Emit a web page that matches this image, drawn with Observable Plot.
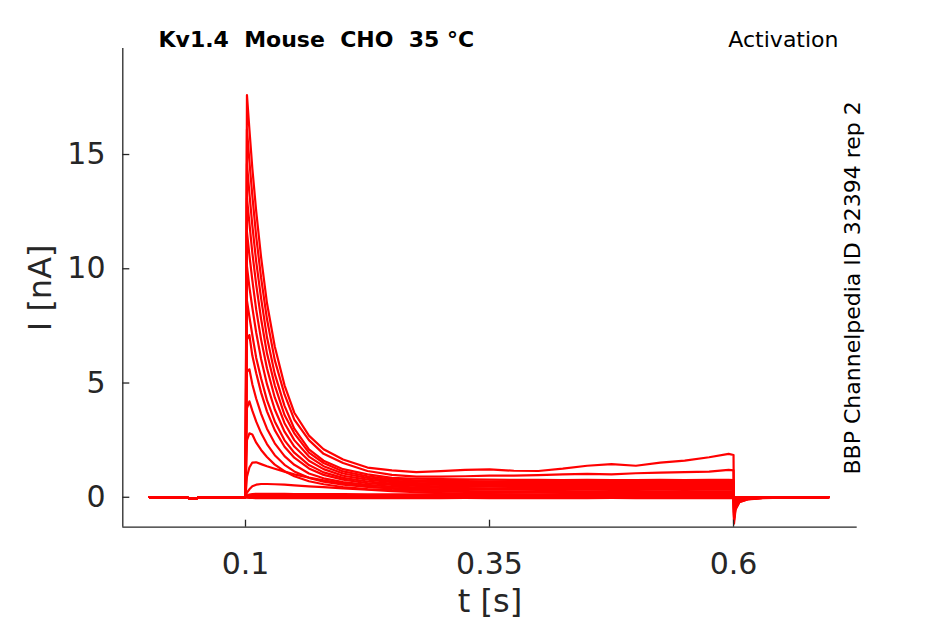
<!DOCTYPE html>
<html>
<head>
<meta charset="utf-8">
<script src="https://cdn.jsdelivr.net/npm/d3@7"></script>
<script src="https://cdn.jsdelivr.net/npm/@observablehq/plot@0.6"></script>
<style>
  html, body { margin: 0; padding: 0; background: #ffffff; }
  svg text { white-space: pre; }
</style>
</head>
<body>
<div id="chart"></div>
<script>
// ---- labels ----
const titleText = "Kv1.4  Mouse  CHO  35 °C";
const protocolText = "Activation";
const sourceText = "BBP Channelpedia ID 32394 rep 2";
const xLabel = "t [s]";
const yLabel = "I [nA]";

// ---- axes ----
const xTicks = [0.1, 0.35, 0.6];
const yTicks = [0, 5, 10, 15];
const xDomain = [-0.0257, 0.7267];
const yDomain = [-1.31, 19.64];

// ---- holding period (shared by every sweep) ----
const tHold = [0.0015, 0.04, 0.042, 0.05, 0.052, 0.0995, 0.1];
const iHold = [0, 0, -0.05, -0.05, 0, 0, 0];

// ---- step + tail sample times ----
const tStep = [0.1015, 0.104, 0.107, 0.111, 0.116, 0.122, 0.13, 0.14, 0.15, 0.165, 0.18,
  0.2, 0.225, 0.25, 0.275, 0.3, 0.325, 0.35, 0.375, 0.4, 0.425, 0.45, 0.475, 0.5, 0.525, 0.55, 0.575, 0.595,
  0.6, 0.6005, 0.602, 0.606, 0.615, 0.63, 0.66, 0.6975];

// ---- current of each sweep at tStep (nA) ----
const sweep1 = [17.6, 16.1, 14.4, 12.5, 10.5, 8.5, 6.6, 4.9, 3.7, 2.7, 2.1, 1.65, 1.3, 1.18, 1.1, 1.14, 1.2, 1.22, 1.16, 1.15, 1.25, 1.38, 1.45, 1.38, 1.52, 1.6, 1.75, 1.9, 1.85, -1.15, -0.55, -0.22, -0.09, -0.04, -0.01, 0];
const sweep2 = [16.1, 14.7, 13.2, 11.4, 9.6, 7.8, 6.0, 4.5, 3.4, 2.5, 1.9, 1.5, 1.15, 0.98, 0.9, 0.9, 0.92, 0.95, 0.95, 0.97, 1.0, 1.02, 1.0, 1.05, 1.08, 1.1, 1.12, 1.2, 1.18, -1.0, -0.5, -0.2, -0.08, -0.03, -0.01, 0];
const sweep3 = [14.6, 13.3, 11.9, 10.3, 8.7, 7.0, 5.4, 4.0, 3.0, 2.1, 1.6, 1.23, 1.0, 0.85, 0.81, 0.79, 0.78, 0.77, 0.76, 0.76, 0.75, 0.76, 0.75, 0.75, 0.76, 0.75, 0.76, 0.76, 0.75, -0.9, -0.45, -0.18, -0.07, -0.03, -0.01, 0];
const sweep4 = [13.1, 12.0, 10.7, 9.3, 7.8, 6.3, 4.9, 3.6, 2.8, 1.95, 1.5, 1.13, 0.92, 0.78, 0.74, 0.72, 0.71, 0.7, 0.69, 0.69, 0.68, 0.69, 0.68, 0.68, 0.69, 0.68, 0.69, 0.69, 0.68, -0.85, -0.42, -0.17, -0.06, -0.03, -0.01, 0];
const sweep5 = [11.6, 10.6, 9.5, 8.2, 6.9, 5.65, 4.37, 3.24, 2.5, 1.78, 1.36, 1.04, 0.85, 0.72, 0.68, 0.66, 0.65, 0.64, 0.63, 0.63, 0.62, 0.63, 0.62, 0.62, 0.63, 0.62, 0.63, 0.63, 0.62, -0.8, -0.4, -0.16, -0.06, -0.02, -0.01, 0];
const sweep6 = [10.1, 9.2, 8.3, 7.2, 6.05, 4.95, 3.84, 2.87, 2.22, 1.6, 1.23, 0.94, 0.77, 0.66, 0.62, 0.6, 0.59, 0.58, 0.57, 0.57, 0.56, 0.57, 0.56, 0.56, 0.57, 0.56, 0.57, 0.57, 0.56, -0.75, -0.37, -0.15, -0.05, -0.02, -0.01, 0];
const sweep7 = [8.6, 7.9, 7.1, 6.1, 5.2, 4.25, 3.32, 2.49, 1.95, 1.41, 1.09, 0.85, 0.69, 0.6, 0.56, 0.54, 0.53, 0.52, 0.51, 0.51, 0.5, 0.51, 0.5, 0.5, 0.51, 0.5, 0.51, 0.51, 0.5, -0.7, -0.35, -0.14, -0.05, -0.02, -0.01, 0];
const sweep8 = [6.9, 7.1, 6.2, 5.43, 4.58, 3.76, 2.94, 2.21, 1.73, 1.26, 0.98, 0.77, 0.62, 0.54, 0.5, 0.48, 0.47, 0.46, 0.45, 0.45, 0.44, 0.45, 0.44, 0.44, 0.45, 0.44, 0.45, 0.45, 0.44, -0.65, -0.32, -0.13, -0.05, -0.02, 0, 0];
const sweep9 = [5.5, 5.6, 4.95, 4.31, 3.65, 3.0, 2.36, 1.8, 1.42, 1.04, 0.83, 0.66, 0.54, 0.47, 0.43, 0.41, 0.4, 0.39, 0.39, 0.38, 0.38, 0.39, 0.38, 0.38, 0.39, 0.38, 0.39, 0.39, 0.38, -0.55, -0.28, -0.11, -0.04, -0.02, 0, 0];
const sweep10 = [3.9, 4.2, 3.79, 3.31, 2.81, 2.33, 1.84, 1.42, 1.13, 0.85, 0.68, 0.55, 0.45, 0.4, 0.37, 0.35, 0.34, 0.33, 0.33, 0.32, 0.32, 0.33, 0.32, 0.32, 0.33, 0.32, 0.33, 0.33, 0.32, -0.45, -0.22, -0.09, -0.03, -0.01, 0, 0];
const sweep11 = [2.5, 2.8, 2.75, 2.39, 2.07, 1.76, 1.43, 1.14, 0.92, 0.7, 0.57, 0.45, 0.36, 0.31, 0.29, 0.27, 0.27, 0.26, 0.26, 0.25, 0.25, 0.26, 0.25, 0.25, 0.26, 0.25, 0.26, 0.26, 0.25, -0.35, -0.17, -0.07, -0.03, -0.01, 0, 0];
const sweep12 = [0.9, 1.3, 1.52, 1.53, 1.45, 1.36, 1.25, 1.12, 1.0, 0.86, 0.74, 0.6, 0.48, 0.38, 0.3, 0.26, 0.23, 0.21, 0.2, 0.2, 0.19, 0.19, 0.18, 0.19, 0.18, 0.18, 0.19, 0.18, 0.18, -0.25, -0.12, -0.05, -0.02, 0, 0, 0];
const sweep13 = [0.2, 0.35, 0.48, 0.55, 0.58, 0.58, 0.57, 0.55, 0.52, 0.48, 0.44, 0.39, 0.33, 0.27, 0.22, 0.18, 0.16, 0.14, 0.13, 0.12, 0.12, 0.11, 0.11, 0.11, 0.1, 0.1, 0.1, 0.1, 0.1, -0.15, -0.07, -0.03, -0.01, 0, 0, 0];
const sweep14 = [0.08, 0.12, 0.14, 0.15, 0.15, 0.15, 0.15, 0.15, 0.14, 0.14, 0.14, 0.14, 0.13, 0.13, 0.13, 0.13, 0.12, 0.13, 0.12, 0.12, 0.12, 0.12, 0.12, 0.12, 0.12, 0.11, 0.12, 0.12, 0.12, -0.1, -0.05, -0.02, -0.01, 0, 0, 0];
const sweep15 = [0.04, 0.06, 0.07, 0.08, 0.08, 0.08, 0.08, 0.08, 0.08, 0.08, 0.07, 0.07, 0.07, 0.07, 0.07, 0.07, 0.07, 0.06, 0.07, 0.07, 0.06, 0.07, 0.07, 0.06, 0.07, 0.07, 0.06, 0.07, 0.07, -0.06, -0.03, -0.01, 0, 0, 0, 0];
const sweep16 = [0.02, 0.03, 0.03, 0.04, 0.04, 0.04, 0.04, 0.04, 0.03, 0.03, 0.03, 0.03, 0.03, 0.03, 0.03, 0.03, 0.03, 0.03, 0.03, 0.03, 0.03, 0.03, 0.03, 0.03, 0.03, 0.03, 0.03, 0.03, 0.03, -0.03, -0.01, 0, 0, 0, 0, 0];
const sweep17 = [0, 0.01, 0.01, 0.01, 0.01, 0, 0, 0.01, 0, 0, 0, 0, 0.01, 0, 0, 0, 0, 0.01, 0, 0, 0, 0, 0, 0.01, 0, 0, 0, 0, 0, -0.01, 0, 0, 0, 0, 0, 0];
const sweep18 = [-0.02, -0.03, -0.03, -0.04, -0.04, -0.04, -0.04, -0.04, -0.04, -0.04, -0.04, -0.04, -0.04, -0.04, -0.04, -0.04, -0.03, -0.04, -0.04, -0.04, -0.04, -0.04, -0.03, -0.04, -0.04, -0.04, -0.04, -0.04, -0.04, 0.02, 0.01, 0, 0, 0, 0, 0];

const sweeps = [sweep1, sweep2, sweep3, sweep4, sweep5, sweep6, sweep7, sweep8, sweep9,
  sweep10, sweep11, sweep12, sweep13, sweep14, sweep15, sweep16, sweep17, sweep18];

// ---- tidy table for Plot ----
const rows = [];
sweeps.forEach((vals, k) => {
  tHold.forEach((t, j) => rows.push({sweep: k, t, i: iHold[j]}));
  tStep.forEach((t, j) => rows.push({sweep: k, t, i: vals[j]}));
});

const ink = "#262626";
const W = 945, H = 624;
const mL = 122.3, mR = 88.3, mT = 48, mB = 97.3;
const frameW = W - mL - mR, frameH = H - mT - mB;
const tickLen = 7;

const chart = Plot.plot({
  width: W,
  height: H,
  marginLeft: mL,
  marginRight: mR,
  marginTop: mT,
  marginBottom: mB,
  style: {fontFamily: "DejaVu Sans", background: "#ffffff", overflow: "visible"},
  x: {domain: xDomain, label: null},
  y: {domain: yDomain, label: null},
  marks: [
    Plot.line(rows, {x: "t", y: "i", z: "sweep", stroke: "#ff0000", strokeWidth: 2.2, strokeLinejoin: "round", curve: "linear"}),
    Plot.ruleY([yDomain[0]], {stroke: ink, strokeWidth: 1.3}),
    Plot.ruleX([xDomain[0]], {stroke: ink, strokeWidth: 1.3}),
    // inward ticks
    Plot.tickX(xTicks, {x: d => d, stroke: ink, strokeWidth: 1.3, insetTop: frameH - tickLen}),
    Plot.tickY(yTicks, {y: d => d, stroke: ink, strokeWidth: 1.3, insetRight: frameW - tickLen}),
    // tick labels
    Plot.axisX(xTicks, {anchor: "bottom", tickSize: 0, tickPadding: 25, fontSize: 30, tickFormat: d => String(d), fill: ink, label: null}),
    Plot.axisY(yTicks, {anchor: "left", tickSize: 0, tickPadding: 17.3, fontSize: 30, tickFormat: d => String(d), fill: ink, label: null}),
    Plot.text([yLabel], {frameAnchor: "left", dx: -82.5, rotate: -90, textAnchor: "middle", lineAnchor: "middle", fontSize: 32, fill: ink}),
    Plot.text([xLabel], {frameAnchor: "bottom", dy: 75, textAnchor: "middle", lineAnchor: "middle", fontSize: 32, fill: ink}),
    Plot.text([titleText], {frameAnchor: "top-left", dx: 35.7, dy: -8.3, textAnchor: "start", lineAnchor: "middle", fontSize: 22, fontWeight: "bold", fill: "#000000"}),
    Plot.text([protocolText], {frameAnchor: "top-right", dx: -18.7, dy: -8.3, textAnchor: "end", lineAnchor: "middle", fontSize: 22, fill: "#000000"}),
    Plot.text([sourceText], {frameAnchor: "right", dx: -4.7, rotate: -90, textAnchor: "middle", lineAnchor: "middle", fontSize: 22, fill: "#000000"})
  ]
});
document.getElementById("chart").appendChild(chart);
</script>
</body>
</html>
